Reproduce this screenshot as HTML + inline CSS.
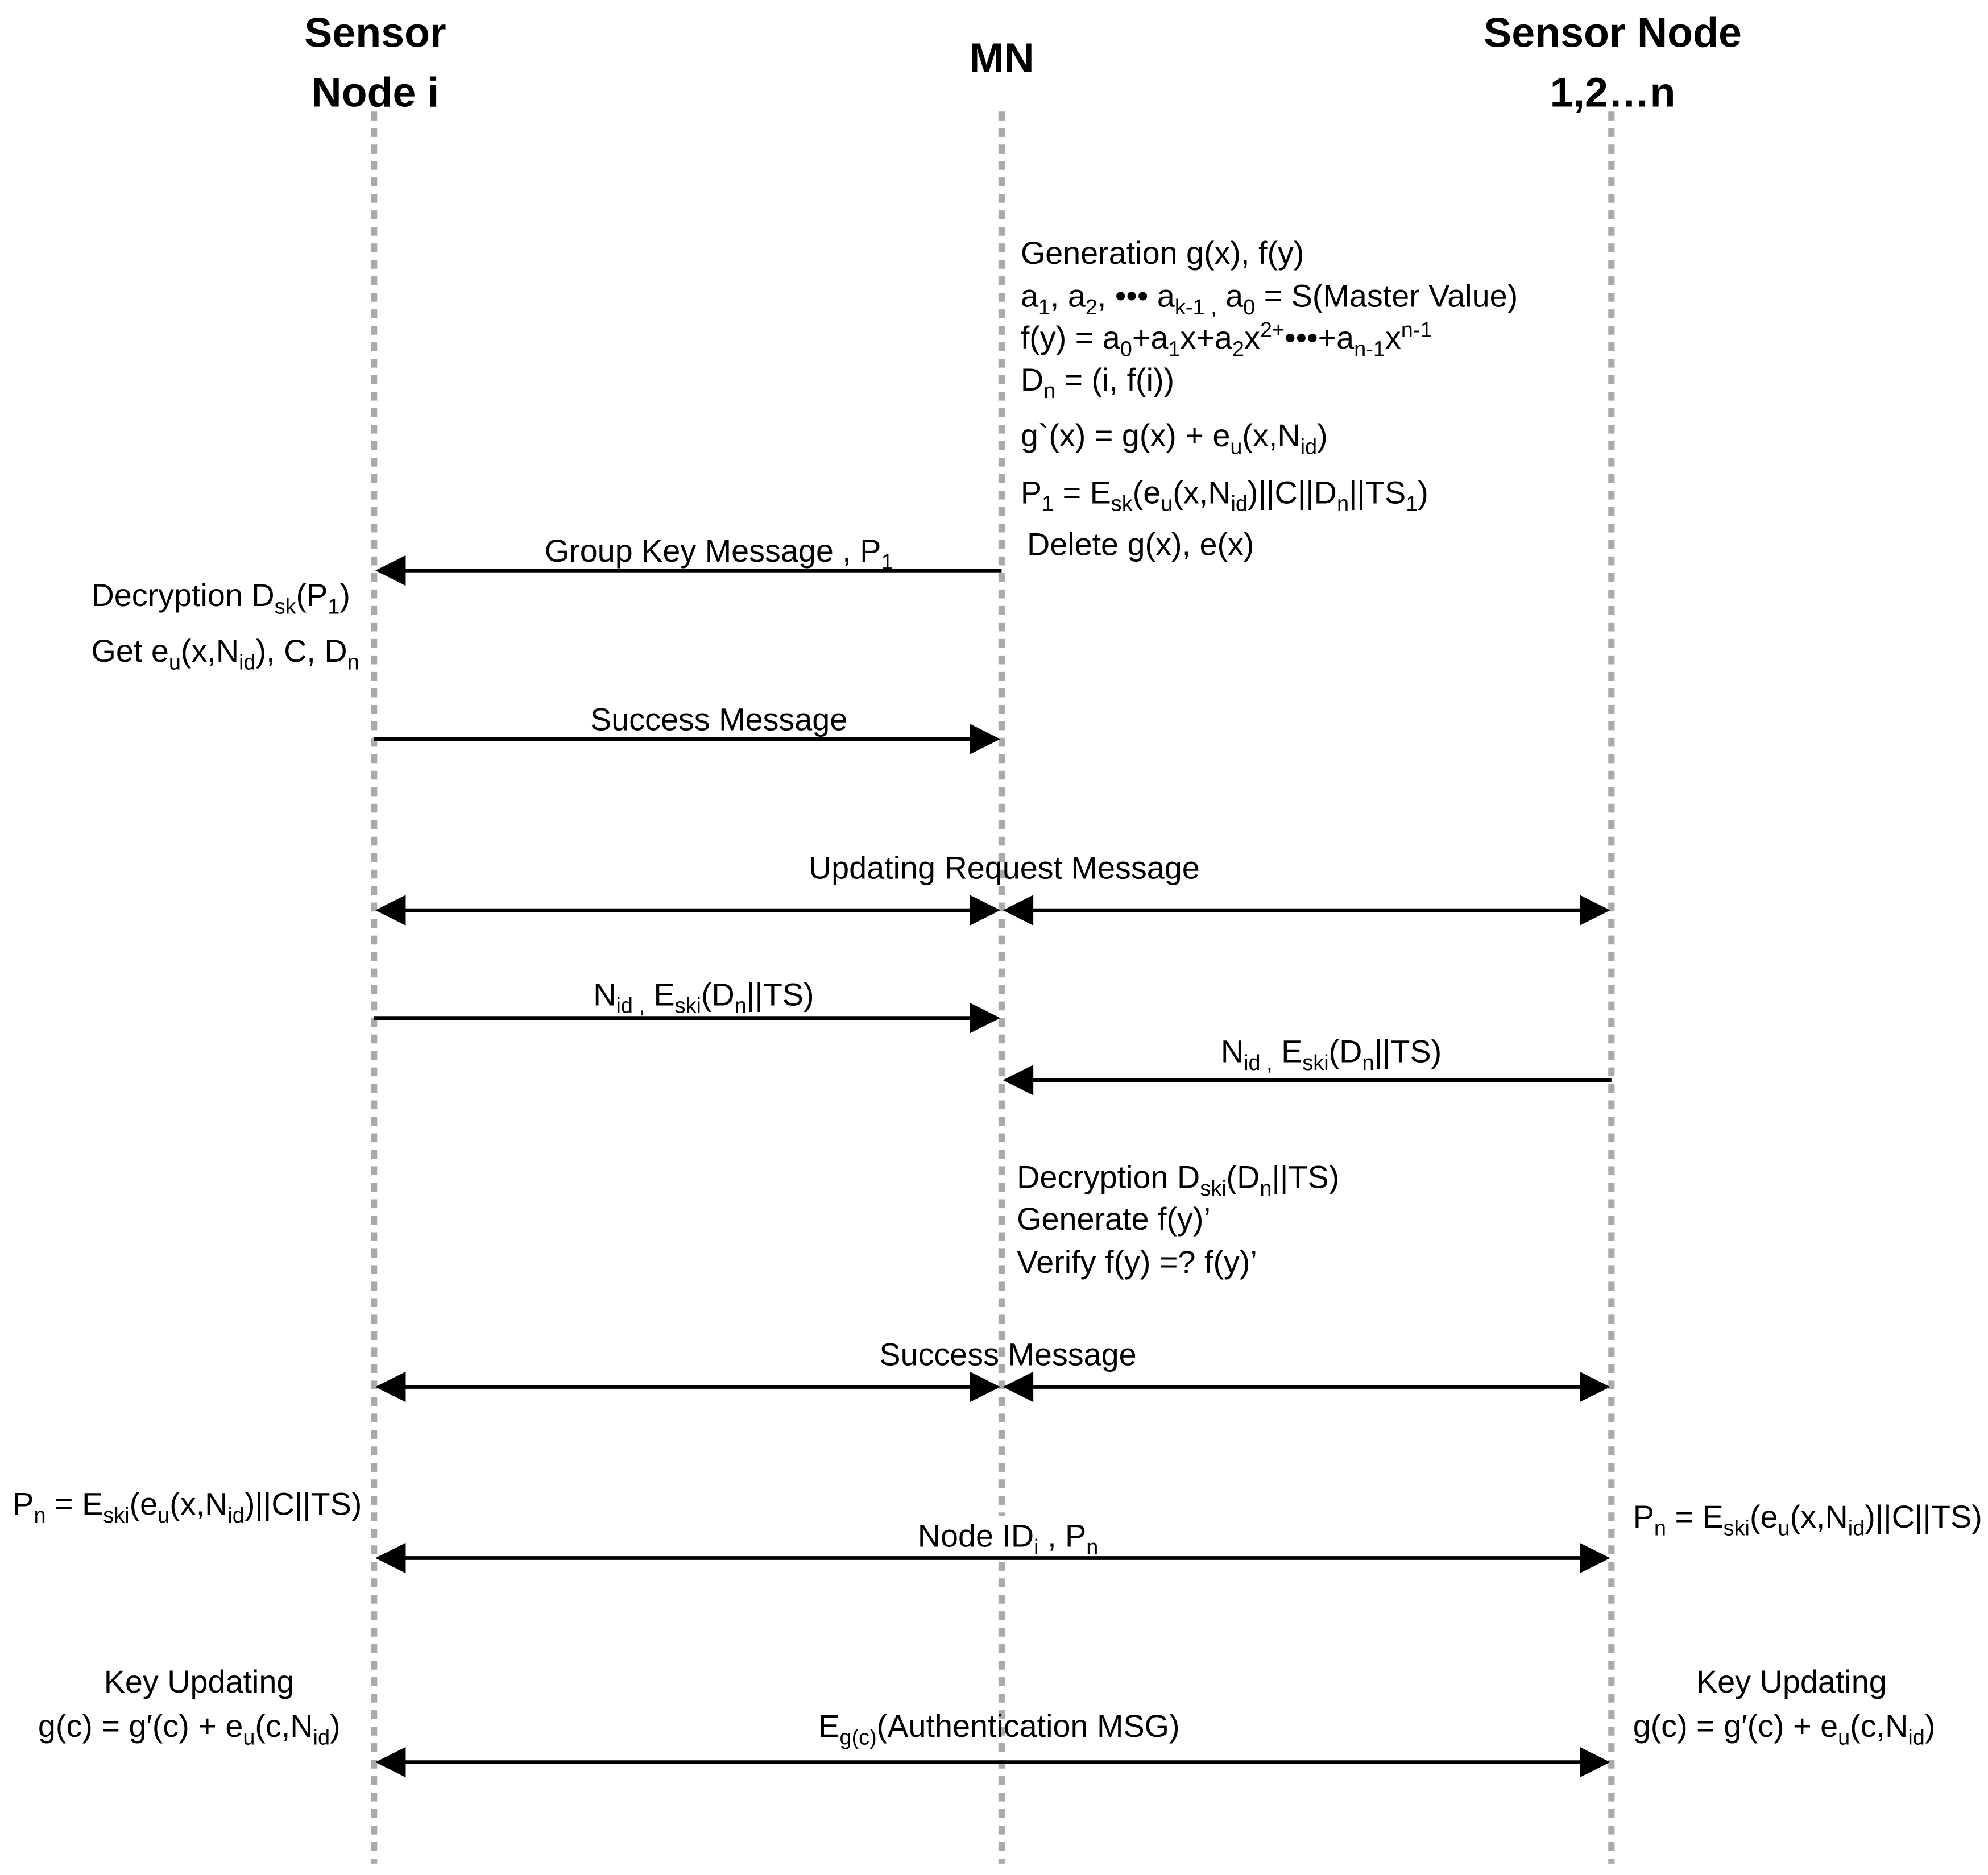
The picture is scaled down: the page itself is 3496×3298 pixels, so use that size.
<!DOCTYPE html>
<html><head><meta charset="utf-8"><style>
html,body{margin:0;padding:0;background:#fff}
svg{display:block}
text{font-family:"Liberation Sans",sans-serif;font-size:25px;fill:#000}
.h{font-size:33px;font-weight:bold}
.s{font-size:17px}
</style></head><body>
<svg width="3496" height="3298" viewBox="0 0 1568 1479" preserveAspectRatio="none" xmlns="http://www.w3.org/2000/svg">
<defs>
<marker id="a" markerWidth="10" markerHeight="10" refX="9" refY="5" orient="auto-start-reverse" markerUnits="userSpaceOnUse" viewBox="0 0 10 10">
</marker>
</defs>
<g stroke="#aaa" stroke-width="5" stroke-dasharray="7 6">
<line x1="295" y1="88" x2="295" y2="1470"/>
<line x1="790" y1="88" x2="790" y2="1470"/>
<line x1="1271" y1="88" x2="1271" y2="1470"/>
</g>
<g text-anchor="middle" class="h">
<text x="296" y="37" class="h">Sensor</text>
<text x="296" y="84" class="h">Node i</text>
<text x="790" y="57" class="h">MN</text>
<text x="1272" y="37" class="h">Sensor Node</text>
<text x="1272" y="84" class="h">1,2…n</text>
</g>
<g stroke="#000" stroke-width="3">
<line x1="310" y1="450" x2="790" y2="450"/>
<line x1="295" y1="583" x2="775" y2="583"/>
<line x1="310" y1="718" x2="775" y2="718"/>
<line x1="805" y1="718" x2="1256" y2="718"/>
<line x1="295" y1="803" x2="775" y2="803"/>
<line x1="805" y1="852" x2="1271" y2="852"/>
<line x1="310" y1="1094" x2="775" y2="1094"/>
<line x1="805" y1="1094" x2="1256" y2="1094"/>
<line x1="310" y1="1229" x2="1256" y2="1229"/>
<line x1="310" y1="1390" x2="1256" y2="1390"/>
</g>
<g fill="#000">
<polygon points="296,450 320,438 320,462"/>
<polygon points="789,583 765,571 765,595"/>
<polygon points="296,718 320,706 320,730"/>
<polygon points="789,718 765,706 765,730"/>
<polygon points="791,718 815,706 815,730"/>
<polygon points="1270,718 1246,706 1246,730"/>
<polygon points="789,803 765,791 765,815"/>
<polygon points="791,852 815,840 815,864"/>
<polygon points="296,1094 320,1082 320,1106"/>
<polygon points="789,1094 765,1082 765,1106"/>
<polygon points="791,1094 815,1082 815,1106"/>
<polygon points="1270,1094 1246,1082 1246,1106"/>
<polygon points="296,1229 320,1217 320,1241"/>
<polygon points="1270,1229 1246,1217 1246,1241"/>
<polygon points="296,1390 320,1378 320,1402"/>
<polygon points="1270,1390 1246,1378 1246,1402"/>
</g>
<g text-anchor="middle">
<text x="567" y="443">Group Key Message , P<tspan class="s" dy="6">1</tspan></text>
<text x="567" y="576">Success Message</text>
<text x="792" y="693">Updating Request Message</text>
<text x="555" y="793">N<tspan class="s" dy="6">id ,</tspan><tspan dy="-6"> E</tspan><tspan class="s" dy="6">ski</tspan><tspan dy="-6">(D</tspan><tspan class="s" dy="6">n</tspan><tspan dy="-6">||TS)</tspan></text>
<text x="1050" y="838">N<tspan class="s" dy="6">id ,</tspan><tspan dy="-6"> E</tspan><tspan class="s" dy="6">ski</tspan><tspan dy="-6">(D</tspan><tspan class="s" dy="6">n</tspan><tspan dy="-6">||TS)</tspan></text>
<text x="795" y="1077">Success Message</text>
<rect x="716" y="1196" width="154" height="30" fill="#fff"/>
<text x="795" y="1220">Node ID<tspan class="s" dy="6">i</tspan><tspan dy="-6"> , P</tspan><tspan class="s" dy="6">n</tspan></text>
<text x="788" y="1370">E<tspan class="s" dy="6">g(c)</tspan><tspan dy="-6">(Authentication MSG)</tspan></text>
<text x="157" y="1335">Key Updating</text>
<text x="1413" y="1335">Key Updating</text>
</g>
<text x="805" y="208">Generation g(x), f(y)</text>
<text x="805" y="242">a<tspan class="s" dy="6">1</tspan><tspan dy="-6">, a</tspan><tspan class="s" dy="6">2</tspan><tspan dy="-6">, ••• a</tspan><tspan class="s" dy="6">k-1 ,</tspan><tspan dy="-6"> a</tspan><tspan class="s" dy="6">0</tspan><tspan dy="-6">  = S(Master Value)</tspan></text>
<text x="805" y="275">f(y) = a<tspan class="s" dy="6">0</tspan><tspan dy="-6">+a</tspan><tspan class="s" dy="6">1</tspan><tspan dy="-6">x+a</tspan><tspan class="s" dy="6">2</tspan><tspan dy="-6">x</tspan><tspan class="s" dy="-9">2+</tspan><tspan dy="9">•••+a</tspan><tspan class="s" dy="6">n-1</tspan><tspan dy="-6">x</tspan><tspan class="s" dy="-9">n-1</tspan></text>
<text x="805" y="308">D<tspan class="s" dy="6">n</tspan><tspan dy="-6"> = (i, f(i))</tspan></text>
<text x="805" y="352">g`(x) = g(x) + e<tspan class="s" dy="6">u</tspan><tspan dy="-6">(x,N</tspan><tspan class="s" dy="6">id</tspan><tspan dy="-6">)</tspan></text>
<text x="805" y="397">P<tspan class="s" dy="6">1</tspan><tspan dy="-6"> = E</tspan><tspan class="s" dy="6">sk</tspan><tspan dy="-6">(e</tspan><tspan class="s" dy="6">u</tspan><tspan dy="-6">(x,N</tspan><tspan class="s" dy="6">id</tspan><tspan dy="-6">)||C||D</tspan><tspan class="s" dy="6">n</tspan><tspan dy="-6">||TS</tspan><tspan class="s" dy="6">1</tspan><tspan dy="-6">)</tspan></text>
<text x="810" y="438">Delete g(x), e(x)</text>
<text x="72" y="478">Decryption D<tspan class="s" dy="6">sk</tspan><tspan dy="-6">(P</tspan><tspan class="s" dy="6">1</tspan><tspan dy="-6">)</tspan></text>
<text x="72" y="522">Get e<tspan class="s" dy="6">u</tspan><tspan dy="-6">(x,N</tspan><tspan class="s" dy="6">id</tspan><tspan dy="-6">), C, D</tspan><tspan class="s" dy="6">n</tspan></text>
<text x="802" y="937">Decryption D<tspan class="s" dy="6">ski</tspan><tspan dy="-6">(D</tspan><tspan class="s" dy="6">n</tspan><tspan dy="-6">||TS)</tspan></text>
<text x="802" y="970">Generate f(y)’</text>
<text x="802" y="1004">Verify f(y) =? f(y)’</text>
<text x="10" y="1195">P<tspan class="s" dy="6">n</tspan><tspan dy="-6"> = E</tspan><tspan class="s" dy="6">ski</tspan><tspan dy="-6">(e</tspan><tspan class="s" dy="6">u</tspan><tspan dy="-6">(x,N</tspan><tspan class="s" dy="6">id</tspan><tspan dy="-6">)||C||TS)</tspan></text>
<text x="1288" y="1205">P<tspan class="s" dy="6">n</tspan><tspan dy="-6"> = E</tspan><tspan class="s" dy="6">ski</tspan><tspan dy="-6">(e</tspan><tspan class="s" dy="6">u</tspan><tspan dy="-6">(x,N</tspan><tspan class="s" dy="6">id</tspan><tspan dy="-6">)||C||TS)</tspan></text>
<text x="30" y="1370">g(c) = g′(c) + e<tspan class="s" dy="6">u</tspan><tspan dy="-6">(c,N</tspan><tspan class="s" dy="6">id</tspan><tspan dy="-6">)</tspan></text>
<text x="1288" y="1370">g(c) = g′(c) + e<tspan class="s" dy="6">u</tspan><tspan dy="-6">(c,N</tspan><tspan class="s" dy="6">id</tspan><tspan dy="-6">)</tspan></text>
</svg>
</body></html>
